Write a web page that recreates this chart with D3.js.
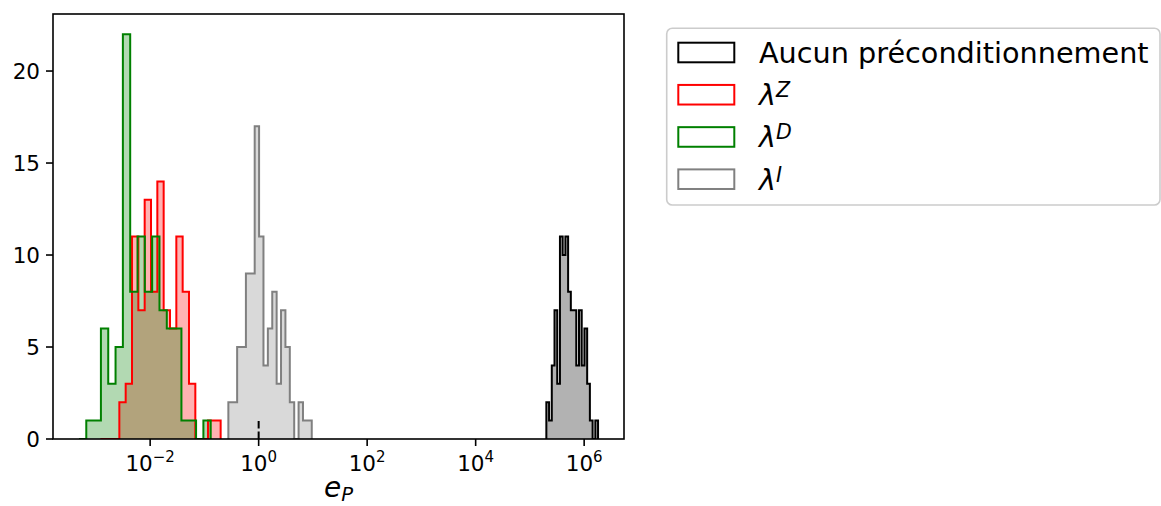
<!DOCTYPE html>
<html><head><meta charset="utf-8">
<script src="https://cdn.jsdelivr.net/npm/d3@7"></script>
<style>
body{margin:0;background:#fff}
svg{display:block;font-family:"DejaVu Sans",sans-serif}
</style>
</head><body>
<svg id="c" width="1161" height="506"></svg>
<script>
// ---------------- data ----------------
const seriesNames = ["Aucun préconditionnement", "λ", "λ", "λ"];
const seriesSup   = ["", "Z", "D", "I"];
const seriesColors = ["#000000", "#ff0000", "#008000", "#808080"];
// log10 bounds of the (log-spaced) bins of each histogram, and the counts
const blackBins  = [5.303, 6.256];
const blackCounts = [2,1,4,7,3,11,10,11,8,7,7,4,7,4,6,3,1,0,1];
const redBins    = [-2.918, -0.7005];
const redCounts  = [0,0,0,2,3,11,7,13,8,14,7,6,11,8,3,0,0,1,1];
const greenBins  = [-3.3124, -0.8837];
const greenCounts = [0,1,1,6,3,5,22,8,11,8,11,7,6,6,1,1,0,1];
const greyBins   = [-0.5585, 0.9788];
const greyCounts = [2,2,5,5,9,9,17,11,4,6,8,3,7,5,2,0,2,1,1];
const xTickExps = [-2, 0, 2, 4, 6];
const yTicks = [0, 5, 10, 15, 20];
const refLine = [1, 0, 1]; // x, y0, y1 of the dashed marker
const xLabel = ["e", "P"];

// ---------------- layout ----------------
const P = {l:53, r:624, t:14, b:439};
const svg = d3.select("#c");

const series = [
  {name:seriesNames[0], sup:seriesSup[0], range:blackBins, counts:blackCounts, color:seriesColors[0]},
  {name:seriesNames[1], sup:seriesSup[1], range:redBins,   counts:redCounts,   color:seriesColors[1]},
  {name:seriesNames[2], sup:seriesSup[2], range:greenBins, counts:greenCounts, color:seriesColors[2]},
  {name:seriesNames[3], sup:seriesSup[3], range:greyBins,  counts:greyCounts,  color:seriesColors[3]}
];
series.forEach(s => {
  const n = s.counts.length, st = (s.range[1]-s.range[0])/n;
  s.edges = d3.range(n+1).map(i => Math.pow(10, s.range[0] + i*st));
});

const lo = d3.min(series, s => s.range[0]), hi = d3.max(series, s => s.range[1]);
const pad = 0.05*(hi-lo);
const x = d3.scaleLog().domain([Math.pow(10, lo-pad), Math.pow(10, hi+pad)]).range([P.l, P.r]);
const ymax = d3.max(series, s => d3.max(s.counts));
const y = d3.scaleLinear().domain([0, ymax*1.05]).range([P.b, P.t]);

svg.append("defs").append("clipPath").attr("id","clip")
  .append("rect").attr("x",P.l).attr("y",P.t).attr("width",P.r-P.l).attr("height",P.b-P.t);

const line = d3.line().x(d => x(d[0])).y(d => y(d[1]));
function stepPts(s){
  const pts = [[s.edges[0],0]];
  s.counts.forEach((c,i) => { pts.push([s.edges[i],c]); pts.push([s.edges[i+1],c]); });
  pts.push([s.edges[s.edges.length-1],0]);
  return pts;
}
const g = svg.append("g").attr("clip-path","url(#clip)");
series.forEach(s => {
  g.append("path").attr("d", line(stepPts(s)) + "Z")
    .attr("fill", s.color).attr("fill-opacity", 0.3).attr("stroke","none");
});
series.forEach(s => {
  g.append("path").attr("d", line(stepPts(s)))
    .attr("fill","none").attr("stroke", s.color).attr("stroke-width",2)
    .attr("stroke-linejoin","miter");
});

// dashed marker
g.append("line")
  .attr("x1", x(refLine[0])).attr("x2", x(refLine[0]))
  .attr("y1", y(refLine[1])).attr("y2", y(refLine[2]))
  .attr("stroke","#000").attr("stroke-width",2).attr("stroke-dasharray","7.4,3.2");

// axes frame
svg.append("rect").attr("x",P.l).attr("y",P.t).attr("width",P.r-P.l).attr("height",P.b-P.t)
  .attr("fill","none").attr("stroke","#000").attr("stroke-width",1.6);

// x ticks
const xt = svg.append("g");
xTickExps.forEach(e => {
  const px = x(Math.pow(10,e));
  xt.append("line").attr("x1",px).attr("x2",px).attr("y1",P.b).attr("y2",P.b+7)
    .attr("stroke","#000").attr("stroke-width",1.6);
  const t = xt.append("text").attr("x",px).attr("y",471).attr("text-anchor","middle")
    .attr("font-size",21.5).attr("fill","#000");
  t.append("tspan").text("10");
  t.append("tspan").attr("font-size",15).attr("dy",-9).text(e<0 ? "\u2212"+(-e) : String(e));
});
// y ticks
const yt = svg.append("g");
yTicks.forEach(v => {
  const py = y(v);
  yt.append("line").attr("x1",P.l-7).attr("x2",P.l).attr("y1",py).attr("y2",py)
    .attr("stroke","#000").attr("stroke-width",1.6);
  yt.append("text").attr("x",P.l-13).attr("y",py+7.8).attr("text-anchor","end")
    .attr("font-size",21.5).attr("fill","#000").text(v);
});

// x label
const xl = svg.append("text").attr("x",(P.l+P.r)/2).attr("y",497).attr("text-anchor","middle")
  .attr("font-size",28).attr("font-style","italic").attr("fill","#000");
xl.append("tspan").text(xLabel[0]);
xl.append("tspan").attr("font-size",19.6).attr("dy",4).text(xLabel[1]);

// legend
const lg = svg.append("g");
lg.append("rect").attr("x",666.7).attr("y",28.3).attr("width",493.3).attr("height",176.7)
  .attr("rx",5.6).attr("fill","#fff").attr("fill-opacity",0.8)
  .attr("stroke","#cccccc").attr("stroke-width",1.6);
series.forEach((s,i) => {
  const cy = 52.5 + i*42.23;
  lg.append("rect").attr("x",678.3).attr("y",cy-9.8).attr("width",56).attr("height",19.6)
    .attr("fill","none").attr("stroke",s.color).attr("stroke-width",2);
  const t = lg.append("text").attr("x",759).attr("y",cy+10.4).attr("font-size",28.7).attr("fill","#000");
  if (s.sup) {
    t.append("tspan").attr("font-style","italic").text(s.name);
    t.append("tspan").attr("font-style","italic").attr("font-size",20.5).attr("dy",-8).text(s.sup);
  } else {
    t.text(s.name);
  }
});
</script>
</body></html>
